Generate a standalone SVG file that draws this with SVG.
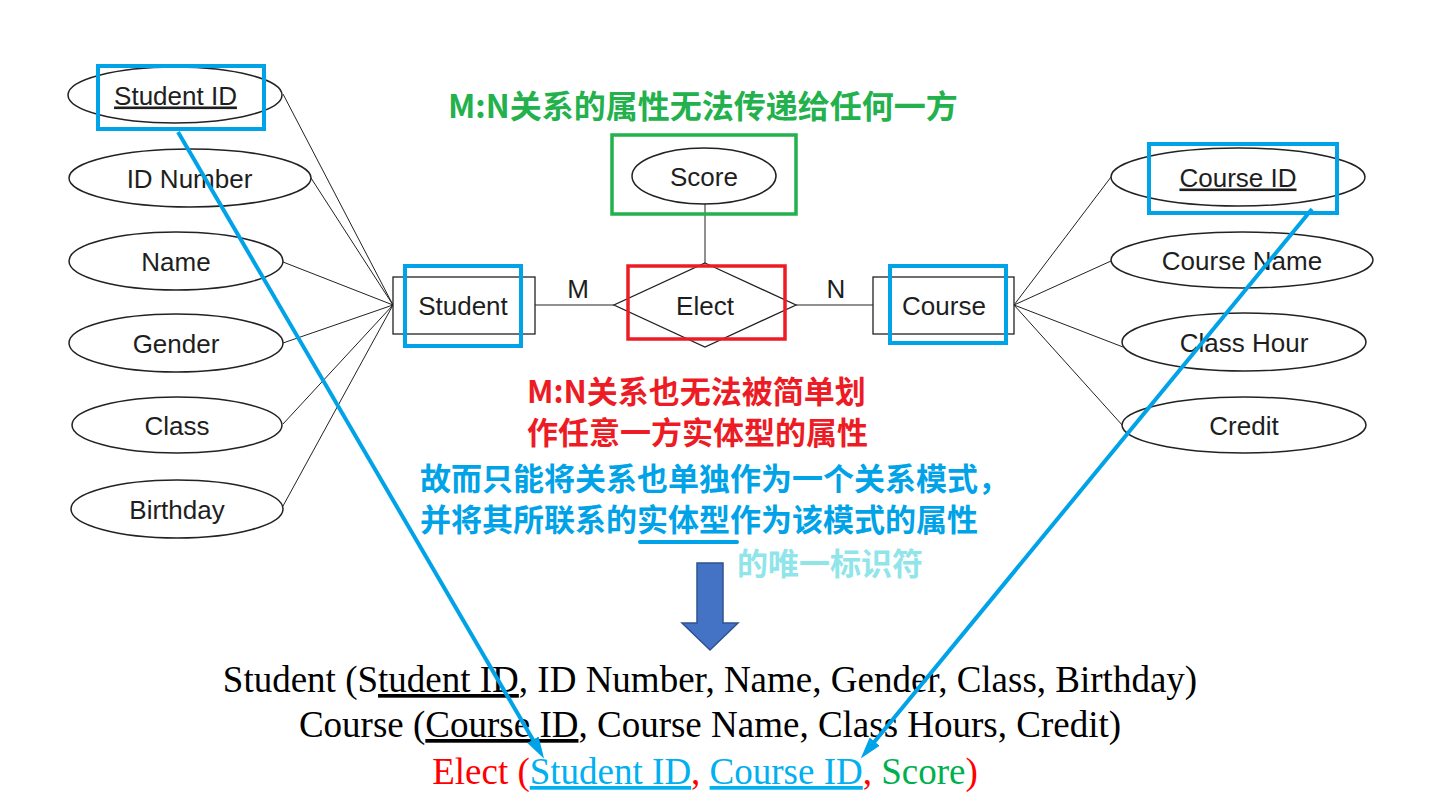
<svg xmlns="http://www.w3.org/2000/svg" width="1430" height="803" viewBox="0 0 1430 803">
<style>
.bg{fill:#ffffff}
.ell{fill:#ffffff;stroke:#222;stroke-width:1.5}
.ent{fill:#ffffff;stroke:#222;stroke-width:1.3}
.lbl{font-family:"Liberation Sans",Arial,sans-serif;font-size:26px;fill:#1e1e1e;text-anchor:middle}
.ul{text-decoration:underline}
.conn line{stroke:#222;stroke-width:1}
.bbox{fill:none;stroke:#00A2E8;stroke-width:4}
.rbox{fill:none;stroke:#ED1C24;stroke-width:3.5}
.gbox{fill:none;stroke:#22B14C;stroke-width:3.5}
.cjk{font-family:"Noto Sans CJK SC","Noto Sans",sans-serif;font-weight:bold}
.rel{font-family:"Liberation Serif","Times New Roman",serif;font-size:37px;text-anchor:middle;fill:#000}
.barr{stroke:#00A2E8;stroke-width:4;fill:none}
</style>
<defs>
<marker id="ah" markerUnits="userSpaceOnUse" markerWidth="22" markerHeight="14" refX="2" refY="7" orient="auto" viewBox="0 0 22 14">
<path d="M0,0.5 L22,7 L0,13.5 z" fill="#00A2E8"/>
</marker>
</defs>
<rect class="bg" x="0" y="0" width="1430" height="803"/>

<g id="connectors" class="conn">
<line x1="283" y1="94" x2="393" y2="305"/>
<line x1="311" y1="178" x2="393" y2="305"/>
<line x1="283" y1="262" x2="393" y2="305"/>
<line x1="283" y1="343" x2="393" y2="305"/>
<line x1="283" y1="424" x2="393" y2="305"/>
<line x1="283" y1="506" x2="393" y2="305"/>
<line x1="1111" y1="177" x2="1014" y2="305"/>
<line x1="1111" y1="261" x2="1014" y2="305"/>
<line x1="1123" y1="347" x2="1014" y2="305"/>
<line x1="1123" y1="426" x2="1014" y2="305"/>
<line x1="535" y1="305" x2="614" y2="305"/>
<line x1="796" y1="305" x2="873" y2="305"/>
<line x1="705" y1="204" x2="705" y2="263"/>
</g>

<g id="attr-student-id"><ellipse class="ell" cx="175" cy="95" rx="107" ry="28"/><text class="lbl ul" x="175.5" y="104.5">Student ID</text></g>
<g id="attr-id-number"><ellipse class="ell" cx="190" cy="178" rx="121" ry="29"/><text class="lbl" x="189.5" y="187.5">ID Number</text></g>
<g id="attr-name"><ellipse class="ell" cx="176" cy="261" rx="107" ry="29"/><text class="lbl" x="176" y="270.5">Name</text></g>
<g id="attr-gender"><ellipse class="ell" cx="176" cy="343" rx="107" ry="29"/><text class="lbl" x="176" y="352.5">Gender</text></g>
<g id="attr-class"><ellipse class="ell" cx="177" cy="425" rx="105" ry="28"/><text class="lbl" x="177" y="434.5">Class</text></g>
<g id="attr-birthday"><ellipse class="ell" cx="177" cy="509" rx="106" ry="29"/><text class="lbl" x="177" y="518.5">Birthday</text></g>

<g id="entity-student"><rect class="ent" x="393" y="277" width="142" height="57"/><text class="lbl" x="463" y="314.5">Student</text></g>
<g id="rel-elect"><polygon class="ent" points="705,263 796,305 705,347 614,305"/><text class="lbl" x="705" y="314.5">Elect</text></g>
<g id="entity-course"><rect class="ent" x="873" y="277" width="141" height="57"/><text class="lbl" x="944" y="314.5">Course</text></g>
<g id="attr-score"><ellipse class="ell" cx="704" cy="176" rx="72" ry="28"/><text class="lbl" x="704" y="185.5">Score</text></g>

<g id="card-m"><text class="lbl" x="578" y="298">M</text></g>
<g id="card-n"><text class="lbl" x="836" y="298">N</text></g>

<g id="attr-course-id"><ellipse class="ell" cx="1238" cy="177" rx="127" ry="29"/><text class="lbl ul" x="1238" y="186.5">Course ID</text></g>
<g id="attr-course-name"><ellipse class="ell" cx="1242" cy="260" rx="131" ry="28"/><text class="lbl" x="1242" y="269.5">Course Name</text></g>
<g id="attr-class-hour"><ellipse class="ell" cx="1244" cy="342" rx="122" ry="29"/><text class="lbl" x="1244" y="351.5">Class Hour</text></g>
<g id="attr-credit"><ellipse class="ell" cx="1244" cy="425" rx="122" ry="28"/><text class="lbl" x="1244" y="434.5">Credit</text></g>

<g id="highlights">
<rect class="bbox" x="98" y="66" width="166" height="63"/>
<rect class="bbox" x="405" y="266" width="116" height="80"/>
<rect class="bbox" x="890" y="266" width="116" height="77"/>
<rect class="bbox" x="1149" y="144" width="188" height="69"/>
<rect class="rbox" x="628" y="266" width="157" height="73"/>
<rect class="gbox" x="612" y="135" width="184" height="79"/>
</g>

<g id="notes">
<text class="cjk" x="448" y="118" font-size="32" fill="#22B14C">M:N关系的属性无法传递给任何一方</text>
<text class="cjk" x="527" y="403" font-size="31" fill="#ED1C24">M:N关系也无法被简单划</text>
<text class="cjk" x="527" y="444" font-size="31" fill="#ED1C24">作任意一方实体型的属性</text>
<text class="cjk" x="420" y="490" font-size="31" fill="#00A2E8">故而只能将关系也单独作为一个关系模式，</text>
<text class="cjk" x="420" y="531" font-size="31" fill="#00A2E8">并将其所联系的实体型作为该模式的属性</text>
<line x1="640" y1="542" x2="737" y2="542" stroke="#00A2E8" stroke-width="4" stroke-linecap="round"/>
<text class="cjk" x="737" y="575" font-size="31" fill="#8FE5E9">的唯一标识符</text>
</g>

<g id="down-arrow">
<polygon points="697,563 723,563 723,623 738,623 710,650 682,623 697,623" fill="#4472C4" stroke="#2F528F" stroke-width="1.5"/>
</g>

<g id="relations">
<text class="rel" x="710" y="692">Student (S<tspan class="ul">tudent ID</tspan>, ID Number, Name, Gender, Class, Birthday)</text>
<text class="rel" x="710" y="737">Course (<tspan class="ul">Course ID</tspan>, Course Name, Class Hours, Credit)</text>
<text class="rel" x="705" y="784"><tspan fill="#FF0000">Elect (</tspan><tspan fill="#00B0F0" class="ul">Student ID</tspan><tspan fill="#FF0000">, </tspan><tspan fill="#00B0F0" class="ul">Course ID</tspan><tspan fill="#FF0000">, </tspan><tspan fill="#00B050">Score</tspan><tspan fill="#FF0000">)</tspan></text>
</g>

<g id="link-arrows">
<line class="barr" x1="178" y1="132" x2="534" y2="741.5" marker-end="url(#ah)"/>
<line class="barr" x1="1312" y1="209" x2="873.4" y2="743.1" marker-end="url(#ah)"/>
</g>
</svg>
